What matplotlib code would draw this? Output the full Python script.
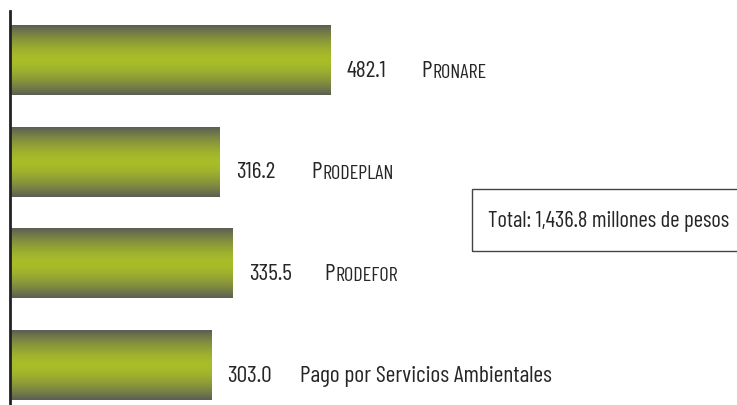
import matplotlib
matplotlib.use("Agg")
import matplotlib.pyplot as plt
import numpy as np

names = ["Pronare", "Prodeplan", "Prodefor", "Pago por Servicios Ambientales"]
small_caps = [True, True, True, False]
values = [482.1, 316.2, 335.5, 303.0]
total_text = "Total: 1,436.8 millones de pesos"

plt.rcParams['font.family'] = ['Barlow Condensed', 'DejaVu Sans']
TXT = '#262626'

fig = plt.figure(figsize=(7.37, 4.06), dpi=100)
ax = fig.add_axes([10 / 737, 0, 727 / 737, 394 / 406])

# vertical gradient: gray - yellow green - gray
t = np.linspace(-1, 1, 200)
w = np.clip(1 - np.abs(t) ** 1.6, 0, 1)
dark = np.array([0x5b, 0x5e, 0x55]) / 255
green = np.array([0xa9, 0xbd, 0x28]) / 255
grad = dark[None, :] * (1 - w[:, None]) + green[None, :] * w[:, None]
grad = grad[:, None, :]

h = 0.68
for i, v in enumerate(values):
    ax.imshow(grad, extent=(0, v, i + h / 2, i - h / 2), aspect='auto',
              interpolation='bilinear', zorder=2)
    ax.annotate(f"{v:.1f}", (v, i), xytext=(11.5, -11), textcoords='offset points',
                va='baseline', ha='left', fontsize=17, color=TXT)
    if small_caps[i]:
        txt = ax.annotate(names[i][0], (v, i), xytext=(66, -11), textcoords='offset points',
                          va='baseline', ha='left', fontsize=17, color=TXT)
        ax.annotate(names[i][1:].upper(), (1, 0), xycoords=txt, xytext=(0.5, 0),
                    textcoords='offset points', va='bottom', ha='left',
                    fontsize=14.5, color=TXT)
    else:
        ax.annotate(names[i], (v, i), xytext=(64, -11), textcoords='offset points',
                    va='baseline', ha='left', fontsize=17, color=TXT)

ax.set_xlim(0, 1095)
ax.set_ylim(3.39, -0.488)
for s in ['top', 'right', 'bottom']:
    ax.spines[s].set_visible(False)
ax.spines['left'].set_linewidth(2)
ax.spines['left'].set_color('#222222')
ax.set_xticks([])
ax.set_yticks([])

fig.text(488 / 737, 1 - 227 / 406, total_text, fontsize=16.3, color=TXT,
         va='baseline', ha='left')
box = plt.Rectangle((472 / 737, 1 - 252 / 406), 280 / 737, 62 / 406,
                    transform=fig.transFigure, fill=False, edgecolor='#444444', lw=1)
fig.patches.append(box)

fig.savefig("out.png", dpi=100)
